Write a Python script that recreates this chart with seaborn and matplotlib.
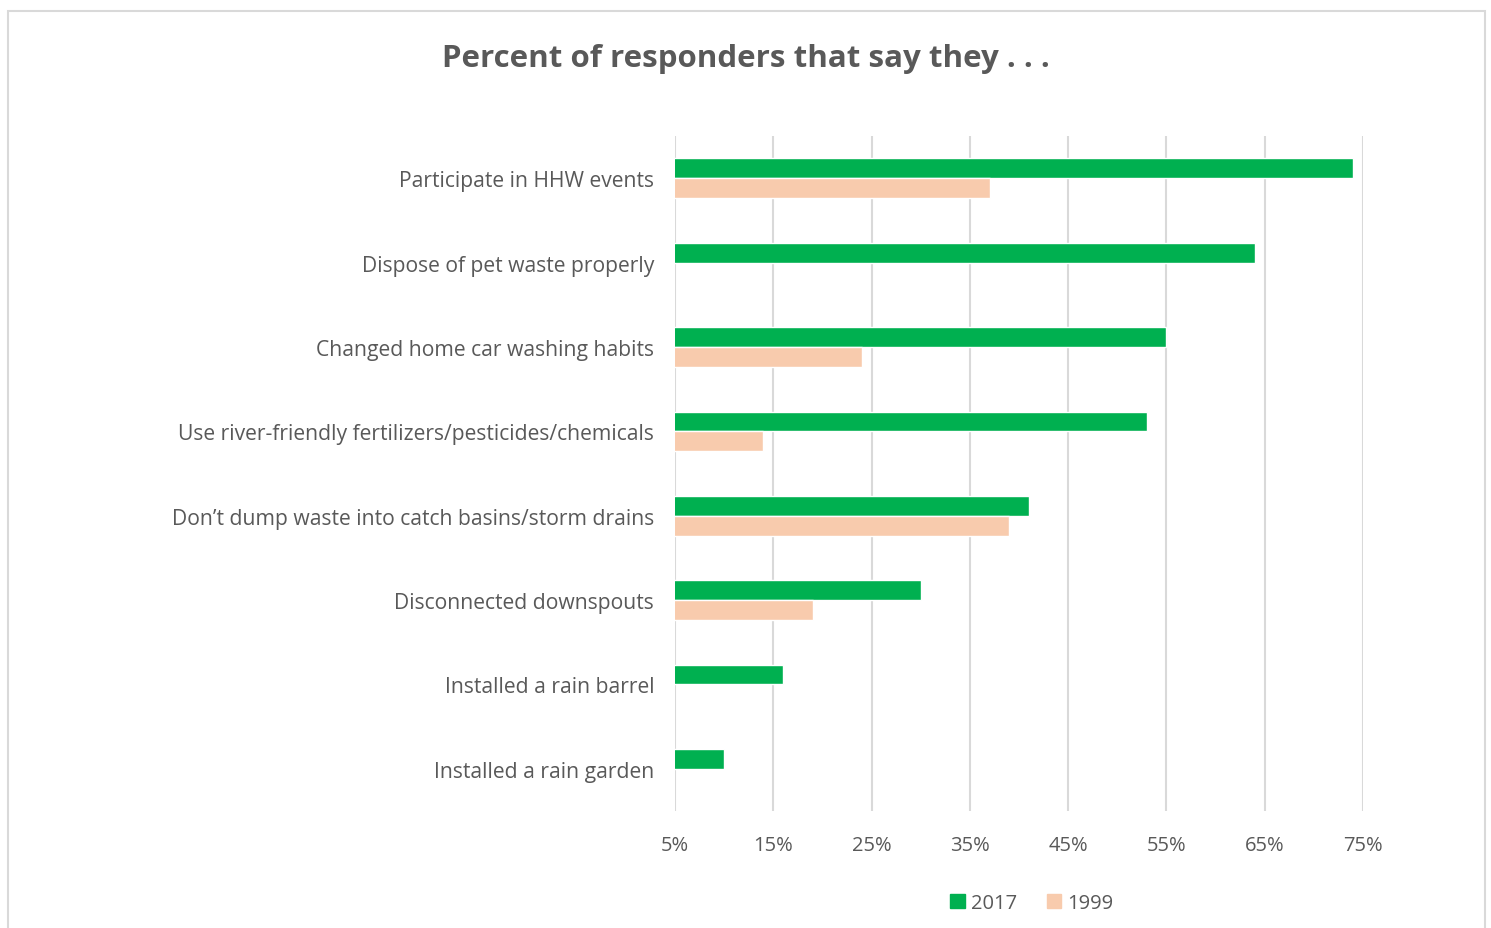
import matplotlib
matplotlib.use("Agg")
import matplotlib.pyplot as plt
import matplotlib.patches as mpatches
import numpy as np
import pandas as pd
import seaborn as sns

# data
actions = [
    "Participate in HHW events",
    "Dispose of pet waste properly",
    "Changed home car washing habits",
    "Use river-friendly fertilizers/pesticides/chemicals",
    "Don\u2019t dump waste into catch basins/storm drains",
    "Disconnected downspouts",
    "Installed a rain barrel",
    "Installed a rain garden",
]
pct_2017 = [74, 64, 55, 53, 41, 30, 16, 10]
pct_1999 = [37, np.nan, 24, 14, 39, 19, np.nan, np.nan]
years = ["2017", "1999"]
tick_vals = [5, 15, 25, 35, 45, 55, 65, 75]

df = pd.DataFrame({
    "Action": actions * 2,
    "Percent": pct_2017 + pct_1999,
    "Year": ["2017"] * len(actions) + ["1999"] * len(actions),
})

sns.set_style("white")
plt.rcParams["font.family"] = ["Open Sans", "DejaVu Sans"]
text_grey = "#595959"
palette = {"2017": "#00B050", "1999": "#F8CBAD"}

fig = plt.figure(figsize=(14.91, 9.29), dpi=100)
ax = fig.add_axes([0.4527, 0.1259, 0.4615, 0.7266])

sns.barplot(data=df, x="Percent", y="Action", hue="Year", hue_order=years,
            order=actions, palette=palette, width=0.47, orient="h",
            saturation=1, ax=ax, legend=False)

ax.set_xlim(5, 75)
ax.set_ylim(len(actions) - 0.5, -0.5)
ax.set_xticks(tick_vals)
ax.set_xticklabels([f"{v}%" for v in tick_vals])
ax.xaxis.grid(True, color="#D9D9D9", linewidth=1.5)
ax.set_axisbelow(True)
for s in ax.spines.values():
    s.set_visible(False)
ax.set_xlabel("")
ax.set_ylabel("")
ax.tick_params(axis="x", length=0, pad=17, labelsize=14.5, labelcolor=text_grey)
ax.tick_params(axis="y", length=0, pad=15, labelsize=15.2, labelcolor=text_grey)

fig.suptitle("Percent of responders that say they . . .", x=0.50, y=0.953,
             fontsize=22.5, fontweight="bold", color=text_grey)

handles = [mpatches.Patch(color=palette[y], label=y) for y in years]
fig.legend(handles=handles, loc="center", bbox_to_anchor=(0.692, 0.027), ncol=2,
           frameon=False, fontsize=14.5, labelcolor=text_grey, handlelength=0.7,
           handleheight=0.7, handletextpad=0.3, columnspacing=1.5)

# light outer border like the chart area frame
fig.patches.append(mpatches.Rectangle((8 / 1491, -0.05), (1485 - 8) / 1491, 1.05 - 12 / 929,
                                      transform=fig.transFigure, fill=False,
                                      edgecolor="#D9D9D9", linewidth=1.5))

fig.savefig("out.png", dpi=100)
